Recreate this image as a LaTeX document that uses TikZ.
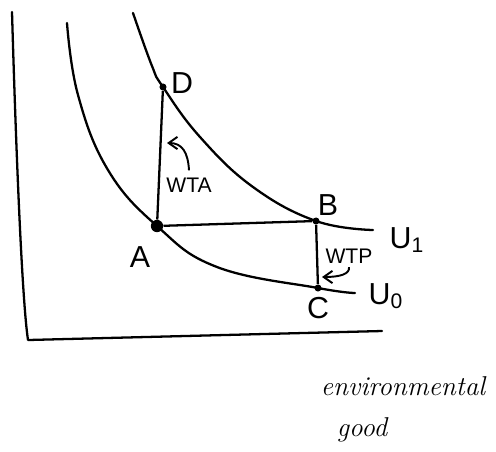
\documentclass[tikz,border=0pt]{standalone}
\usepackage{fontspec}
\setsansfont{Liberation Sans}
\usetikzlibrary{arrows.meta, positioning}

\begin{document}
\begin{tikzpicture}[x=0.02cm, y=-0.02cm,
            crv/.style={draw, line width=1.3pt, line cap=round, line join=round},
            seg/.style={draw, line width=1.3pt},
            pt/.style={circle, fill=black, inner sep=0pt, minimum size=4pt},
            lbl/.style={font=\sffamily\LARGE, inner sep=1pt},
            tag/.style={font=\sffamily\large, inner sep=1pt},
            bent/.style={draw, line width=1.1pt, -{Straight Barb[length=5pt,width=7pt]}}
            ]
            \useasboundingbox (0,0) rectangle (496,451);

            %% ---- Axes ----
            \coordinate (top)    at (12,12);
            \coordinate (origin) at (28,340);
            \coordinate (right)  at (382,331);
            \draw[crv] (top) .. controls (16,150) and (22,300) .. (origin) -- (right);

            %% ---- Points ----
            \node[pt, minimum size=7pt] (A) at (157,226) {};
            \node[pt] (B) at (316,221) {};
            \node[pt] (C) at (318,288) {};
            \node[pt] (D) at (163,87)  {};

            %% ---- Indifference curves ----
            % U0 through A and C
            \draw[crv] plot[smooth, tension=0.7] coordinates {(67,23) (78,95) (108,170)
                (A.center) (217,267) (C.center) (355,293)};
            % U1 through D and B
            \draw[crv] plot[smooth, tension=0.7] coordinates {(133,13) (152,66) (D.center) (200,137)
                (253,187) (B.center) (373,230)};

            %% ---- Moves ----
            \draw[seg] (A) -- (D);
            \draw[seg] (A) -- (B);
            \draw[seg] (B) -- (C);

            %% ---- Labels ----
            \node[lbl] (dl)  at (182,83)  {D};
            \node[lbl] (al)  at (140,257) {A};
            \node[lbl] (bl)  at (328,205) {B};
            \node[lbl] (cl)  at (318,308) {C};
            \node[lbl] (u1)  at (407,240) {U\textsubscript{1}};
            \node[lbl] (u0)  at (386,296) {U\textsubscript{0}};

            %% WTA and WTP with bent arrows
            \node[tag] (wta) at (189,185) {WTA};
            \coordinate (wtatip) at (167,143);
            \draw[bent] ([yshift=3pt]wta.north) .. controls (188,152) and (182,143) .. (wtatip);
            \node[tag] (wtp) at (349,256) {WTP};
            \coordinate (wtptip) at (322,277);
            \draw[bent] ([yshift=-1pt]wtp.south) .. controls (350,274) and (340,277) .. (wtptip);

            %% Axis title
            \node[font=\fontsize{15.5}{18}\selectfont\itshape] (env)  at (403,386) {environmental};
            \node[font=\fontsize{15.5}{18}\selectfont\itshape] (good) at (362,430) {good};
\end{tikzpicture}
\end{document}
